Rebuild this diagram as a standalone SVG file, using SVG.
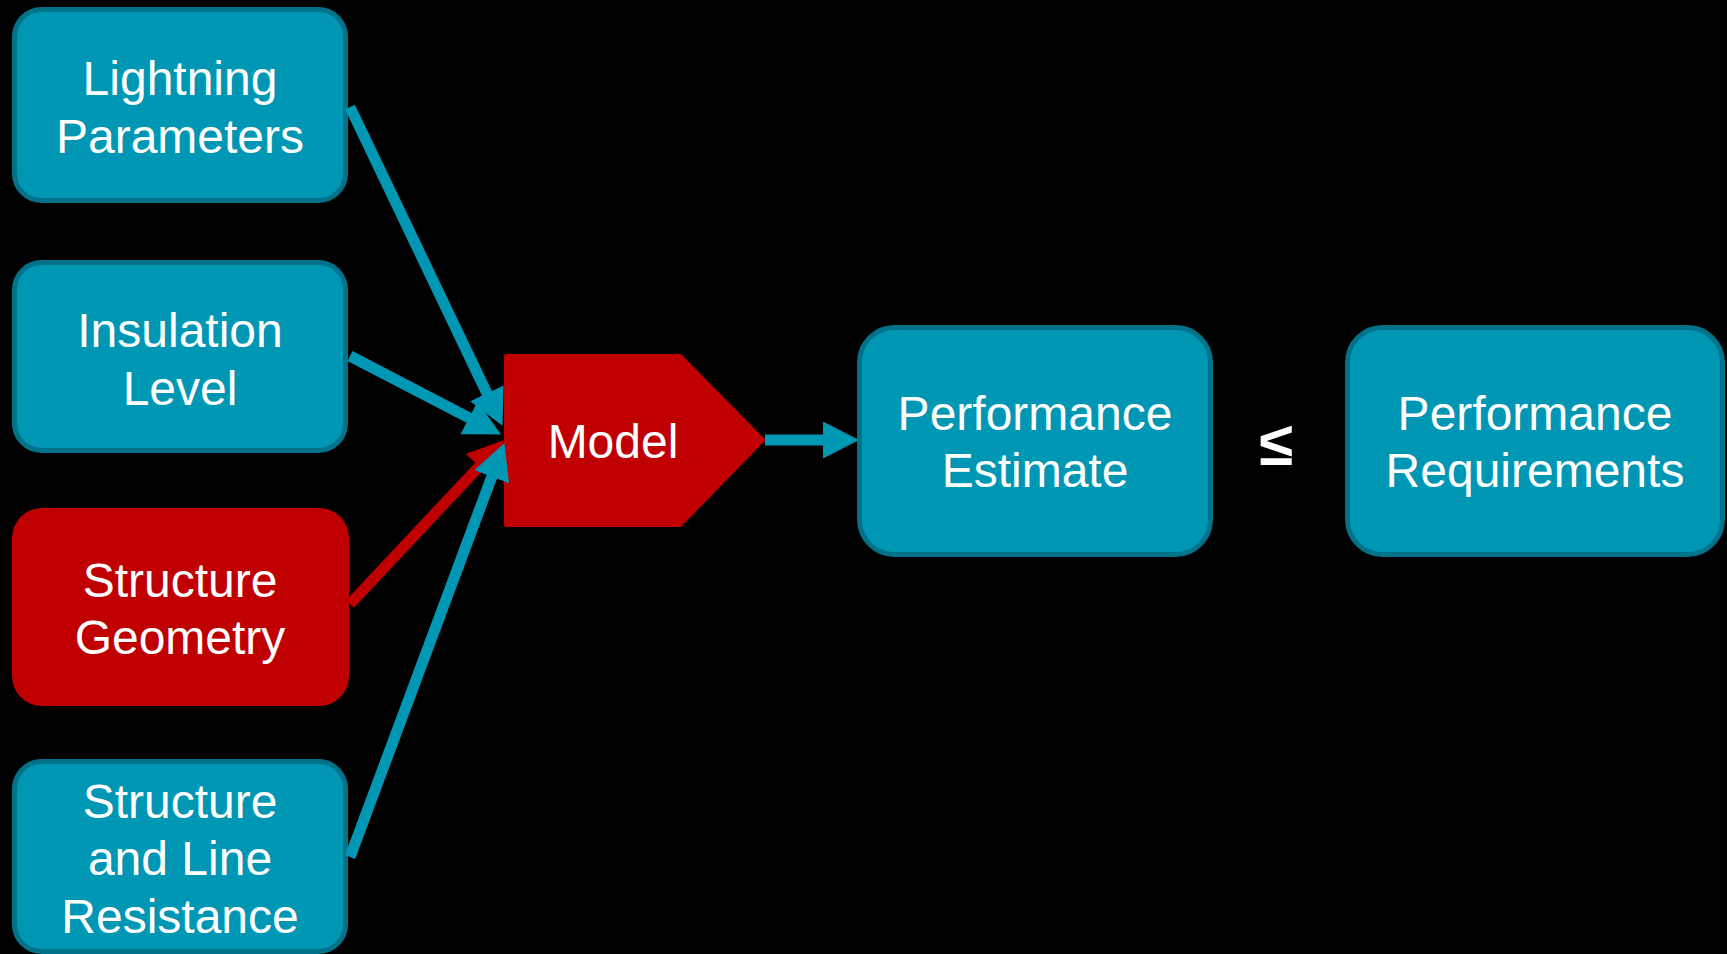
<svg xmlns="http://www.w3.org/2000/svg" width="1727" height="954" viewBox="0 0 1727 954">
  <defs>
    <style>
      .tb { fill: #0097B4; stroke: #00728A; stroke-width: 5; }
      .rb { fill: #C00000; }
      .t { font-family: "Liberation Sans", Arial, sans-serif; font-size: 48px; fill: #FFFFFF; text-anchor: middle; }
      .ct { stroke: #0097B4; stroke-width: 11; fill: none; }
      .cr { stroke: #C00000; stroke-width: 11; fill: none; }
    </style>
    <marker id="ahT" markerUnits="userSpaceOnUse" markerWidth="38" markerHeight="38" viewBox="0 0 38 38" refX="5" refY="18.5" orient="auto">
      <path d="M0,0 L36,18.5 L0,37 z" fill="#0097B4"/>
    </marker>
    <marker id="ahR" markerUnits="userSpaceOnUse" markerWidth="38" markerHeight="38" viewBox="0 0 38 38" refX="5" refY="18.5" orient="auto">
      <path d="M0,0 L36,18.5 L0,37 z" fill="#C00000"/>
    </marker>
  </defs>
  <rect width="1727" height="954" fill="#000000"/>

  <g id="lightning">
    <rect class="tb" x="14.5" y="9.5" width="331" height="191" rx="27"/>
    <text class="t" x="180" y="95">Lightning</text>
    <text class="t" x="180" y="153">Parameters</text>
  </g>
  <g id="insulation">
    <rect class="tb" x="14.5" y="262.5" width="331" height="188" rx="27"/>
    <text class="t" x="180" y="347">Insulation</text>
    <text class="t" x="180" y="405">Level</text>
  </g>
  <g id="geometry">
    <rect class="rb" x="12" y="508" width="337" height="198" rx="30"/>
    <text class="t" x="180" y="597">Structure</text>
    <text class="t" x="180" y="654">Geometry</text>
  </g>
  <g id="resistance">
    <rect class="tb" x="14.5" y="761.5" width="331" height="190" rx="27"/>
    <text class="t" x="180" y="818">Structure</text>
    <text class="t" x="180" y="875">and Line</text>
    <text class="t" x="180" y="933">Resistance</text>
  </g>
  <g id="model">
    <polygon points="506,356 680,356 763,440 680,525 506,525" fill="#C00000" stroke="#C00000" stroke-width="4" stroke-linejoin="round"/>
    <text class="t" x="613" y="458">Model</text>
  </g>
  <g id="estimate">
    <rect class="tb" x="859.5" y="327.5" width="351" height="227" rx="35"/>
    <text class="t" x="1035" y="430">Performance</text>
    <text class="t" x="1035" y="487">Estimate</text>
  </g>
  <g id="leq">
    <text x="1276" y="465" font-family="Liberation Sans, Arial, sans-serif" font-size="62" font-weight="bold" fill="#FFFFFF" text-anchor="middle">≤</text>
  </g>
  <g id="requirements">
    <rect class="tb" x="1347.5" y="327.5" width="375" height="227" rx="35"/>
    <text class="t" x="1535" y="430">Performance</text>
    <text class="t" x="1535" y="487">Requirements</text>
  </g>

  <g id="connectors">
    <line class="ct" x1="350" y1="107" x2="489.1" y2="397.9" marker-end="url(#ahT)"/>
    <line class="ct" x1="350" y1="356" x2="473.4" y2="420.2" marker-end="url(#ahT)"/>
    <line class="cr" x1="350" y1="604" x2="482.5" y2="462.9" marker-end="url(#ahR)"/>
    <line class="ct" x1="350" y1="857" x2="493.5" y2="472.1" marker-end="url(#ahT)"/>
    <line class="ct" x1="765" y1="440" x2="828" y2="440" marker-end="url(#ahT)"/>
  </g>
</svg>
